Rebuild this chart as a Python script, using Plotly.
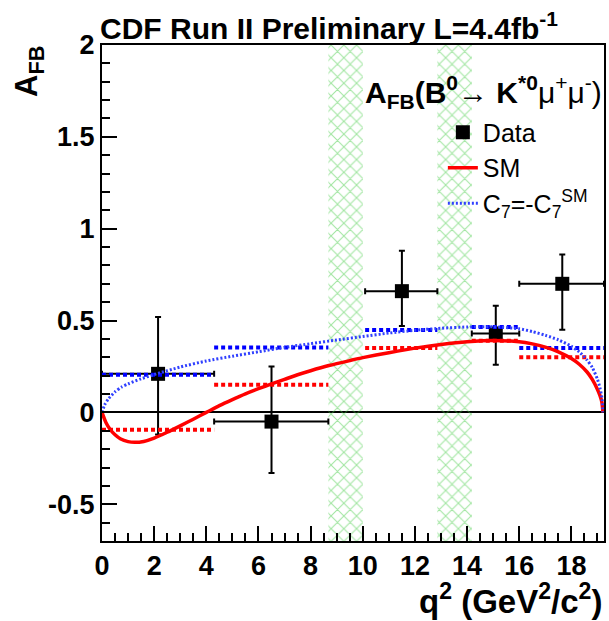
import plotly.graph_objects as go

# ---- data ----
data_q2 = [2.15, 6.5, 11.5, 15.1, 17.65]
data_afb = [0.21, -0.05, 0.66, 0.43, 0.70]
data_ey_plus = [0.31, 0.30, 0.22, 0.15, 0.16]
data_ey_minus = [0.33, 0.28, 0.19, 0.17, 0.25]
bin_lo = [0.0, 4.3, 10.09, 14.18, 16.0]
bin_hi = [4.3, 8.68, 12.86, 16.0, 19.25]

sm_bin = [-0.095, 0.15, 0.35, 0.39, 0.30]
c7_bin = [0.205, 0.353, 0.448, 0.465, 0.35]

sm_q2 = [0.0, 0.15, 0.3, 0.5, 0.7, 1.0, 1.25, 1.6, 2.0, 2.5, 3.0, 3.5, 4.0, 4.5, 5.0, 5.5, 6.0, 6.5,
         7.0, 7.5, 8.0, 8.7, 9.5, 10.0, 11.0, 12.0, 13.0, 14.0, 15.0, 16.0, 16.5, 17.0, 17.5, 18.0,
         18.3, 18.6, 18.8, 19.0, 19.1, 19.17, 19.21]
sm_afb = [0.0, -0.055, -0.09, -0.122, -0.143, -0.159, -0.163, -0.158, -0.14, -0.108, -0.073, -0.037, 0.0,
          0.037, 0.07, 0.101, 0.129, 0.155, 0.18, 0.205, 0.227, 0.255, 0.282, 0.298, 0.325, 0.35, 0.37,
          0.385, 0.392, 0.385, 0.373, 0.355, 0.33, 0.293, 0.262, 0.22, 0.18, 0.125, 0.09, 0.055, 0.0]

c7_q2 = [0.0, 0.1, 0.25, 0.5, 0.75, 1.0, 1.5, 2.0, 3.0, 4.0, 5.0, 6.0, 7.0, 8.0, 9.0, 10.0, 11.0,
         12.0, 13.0, 14.0, 15.0, 16.0, 16.5, 17.0, 17.5, 18.0, 18.3, 18.6, 18.8, 19.0, 19.1, 19.17, 19.21]
c7_afb = [0.0, 0.04, 0.075, 0.112, 0.138, 0.155, 0.183, 0.206, 0.247, 0.28, 0.306, 0.33, 0.354, 0.374,
          0.394, 0.413, 0.432, 0.447, 0.458, 0.465, 0.466, 0.455, 0.44, 0.42, 0.395, 0.36, 0.33, 0.285,
          0.245, 0.18, 0.13, 0.08, 0.0]

veto_lo = [8.68, 12.86]
veto_hi = [10.0, 14.18]

x_ticks = [0, 2, 4, 6, 8, 10, 12, 14, 16, 18]
x_ticktext = ["0", "2", "4", "6", "8", "10", "12", "14", "16", "18"]
y_ticks = [-0.5, 0, 0.5, 1, 1.5, 2]
y_ticktext = ["-0.5", "0", "0.5", "1", "1.5", "2"]

Y_MIN, Y_MAX = -0.7, 2.0
X_MIN, X_MAX = 0.0, 19.25

FONT = "Liberation Sans"

fig = go.Figure()

# veto bands (hatched)
fig.add_trace(go.Bar(
    x=[(a + b) / 2 for a, b in zip(veto_lo, veto_hi)],
    y=[Y_MAX - Y_MIN] * len(veto_lo),
    base=[Y_MIN] * len(veto_lo),
    width=[b - a for a, b in zip(veto_lo, veto_hi)],
    marker=dict(color="rgba(0,0,0,0)", line=dict(width=0),
                pattern=dict(shape="x", fgcolor="#44cc44", bgcolor="rgba(255,255,255,0)",
                             size=9, solidity=0.22, fillmode="overlay")),
    showlegend=False, hoverinfo="skip",
))

# data points
fig.add_trace(go.Scatter(
    x=data_q2, y=data_afb, mode="markers", name="Data",
    marker=dict(symbol="square", size=14, color="black"),
    error_y=dict(type="data", symmetric=False, array=data_ey_plus, arrayminus=data_ey_minus,
                 color="black", thickness=2, width=3),
    error_x=dict(type="data", symmetric=False,
                 array=[h - x for h, x in zip(bin_hi, data_q2)],
                 arrayminus=[x - l for l, x in zip(bin_lo, data_q2)],
                 color="black", thickness=2, width=3),
))

def seg(vals):
    xs, ys = [], []
    for lo, hi, v in zip(bin_lo, bin_hi, vals):
        xs += [lo, hi, None]
        ys += [v, v, None]
    return xs, ys

bx, by = seg(c7_bin)
fig.add_trace(go.Scatter(x=bx, y=by, mode="lines", showlegend=False,
                         line=dict(color="#0000ff", width=4, dash="4px,3px"), hoverinfo="skip"))
bx, by = seg(sm_bin)
fig.add_trace(go.Scatter(x=bx, y=by, mode="lines", showlegend=False,
                         line=dict(color="#ff0000", width=4, dash="4px,3px"), hoverinfo="skip"))

fig.add_trace(go.Scatter(x=sm_q2, y=sm_afb, mode="lines", name="SM",
                         line=dict(color="#ff0000", width=3.5, shape="spline", smoothing=0.6)))
fig.add_trace(go.Scatter(x=c7_q2, y=c7_afb, mode="lines",
                         name="C<sub>7</sub>=-C<sub>7</sub><sup>SM</sup>",
                         line=dict(color="#3040ff", width=3, dash="2px,2px", shape="spline", smoothing=0.6)))

axis_common = dict(
    showline=True, linecolor="black", linewidth=2, mirror=True,
    ticks="inside", tickcolor="black", tickwidth=1.5,
    showgrid=False, tickfont=dict(family=FONT, size=27, color="black", weight="bold"),
)

fig.update_xaxes(range=[X_MIN, X_MAX], tickvals=x_ticks, ticktext=x_ticktext, ticklen=15,
                 zeroline=False,
                 minor=dict(dtick=0.5, tick0=0, ticks="inside", ticklen=8, tickcolor="black", tickwidth=1.5),
                 **axis_common)
fig.update_yaxes(range=[Y_MIN, Y_MAX], tickvals=y_ticks, ticktext=y_ticktext, ticklen=15,
                 zeroline=True, zerolinecolor="black", zerolinewidth=2,
                 minor=dict(dtick=0.1, tick0=0, ticks="inside", ticklen=8, tickcolor="black", tickwidth=1.5),
                 **axis_common)

fig.update_layout(
    width=609, height=621,
    margin=dict(l=102, r=3, t=45, b=80),
    paper_bgcolor="white", plot_bgcolor="white",
    barmode="overlay",
    font=dict(family=FONT, color="black"),
    legend=dict(x=0.679, y=0.87, xanchor="left", yanchor="top",
                bgcolor="rgba(0,0,0,0)", borderwidth=0, tracegroupgap=0,
                font=dict(family=FONT, size=25, color="black")),
    annotations=[
        dict(text="CDF Run II Preliminary L=4.4fb<sup>-1</sup>", xref="paper", yref="paper",
             x=-0.008, y=0.995, xanchor="left", yanchor="bottom", showarrow=False,
             font=dict(family=FONT, size=30, color="black", weight="bold")),
        dict(text="<b>A<sub>FB</sub>(B<sup>0</sup></b>\u2192 <b>K<sup>*0</sup></b>\u03bc<sup>+</sup>\u03bc<sup>-</sup>)",
             xref="paper", yref="paper", x=1.0, y=0.905, xanchor="right", yanchor="middle",
             showarrow=False, font=dict(family=FONT, size=30, color="black")),
        dict(text="<b>A<sub>FB</sub></b>", xref="paper", yref="paper", x=-0.145, y=0.946,
             xanchor="center", yanchor="middle", textangle=-90, showarrow=False,
             font=dict(family=FONT, size=31, color="black")),
        dict(text="<b>q<sup>2</sup> (GeV<sup>2</sup>/c<sup>2</sup>)</b>", xref="paper", yref="paper",
             x=1.0, y=-0.163, xanchor="right", yanchor="bottom", showarrow=False,
             font=dict(family=FONT, size=33, color="black")),
    ],
)

fig.write_html("out.html")
